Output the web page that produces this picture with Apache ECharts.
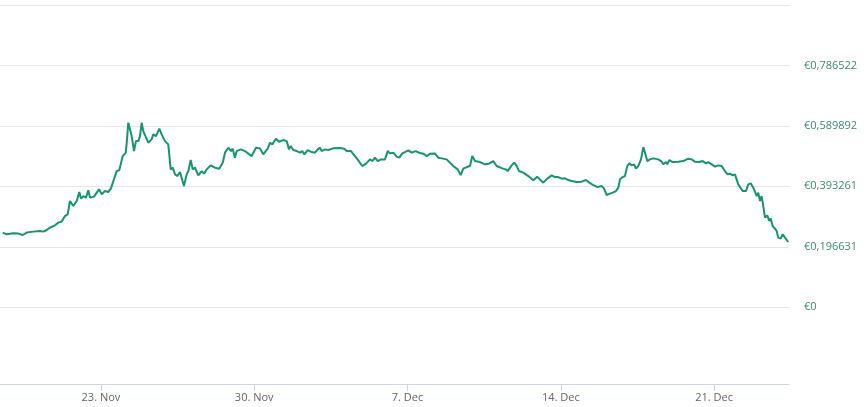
<!DOCTYPE html>
<html>
<head>
<meta charset="utf-8">
<script src="https://cdn.jsdelivr.net/npm/echarts@6/dist/echarts.min.js"></script>
<style>
html,body{margin:0;padding:0;background:#fff;}
#c{width:867px;height:407px;}
</style>
</head>
<body>
<div id="c"></div>
<script>
// hours since 18 Nov 2020 00:00
const hours = [12.4,16.7,24.0,29.5,34.3,38.7,45.9,53.2,56.9,60.6,64.2,69.7,73.3,77.0,80.6,83.6,86.1,89.7,93.5,96.3,98.2,100.7,103.6,106.2,108.0,112.4,115.4,117.9,120.9,124.5,128.1,131.0,135.4,137.3,140.1,143.9,145.3,147.2,148.3,150.0,151.1,153.7,156.3,158.4,161.0,162.8,164.7,166.4,168.3,171.9,175.6,177.4,180.4,184.0,186.6,190.2,193.8,196.5,198.7,201.2,203.7,206.7,208.5,211.0,214.0,215.8,218.4,220.6,223.1,226.7,230.4,233.0,235.9,240.3,245.0,249.7,253.5,256.0,259.6,262.6,264.4,266.9,268.8,273.2,277.9,282.6,285.2,290.0,294.3,296.2,297.9,299.8,302.8,305.3,307.8,311.9,315.2,319.9,323.6,326.1,328.0,330.8,334.6,338.2,340.7,342.9,346.6,351.0,354.6,357.6,360.1,361.9,365.6,369.2,374.7,382.0,386.7,389.4,394.1,397.7,402.1,406.4,410.5,414.9,417.4,420.4,423.3,426.9,431.3,434.3,436.8,440.4,444.1,447.0,450.3,453.2,456.9,460.6,465.0,468.6,473.3,477.0,480.6,486.1,489.7,493.5,498.9,502.6,506.2,511.0,514.3,517.1,520.9,524.5,527.0,530.0,535.4,540.9,545.3,550.0,553.7,559.9,563.6,565.8,570.2,573.0,575.7,578.2,582.9,588.4,590.2,593.9,598.2,601.9,604.8,609.2,614.0,617.6,621.2,625.0,628.6,632.2,635.9,641.4,646.9,651.6,655.2,659.6,664.4,668.8,671.3,674.3,677.9,680.9,684.5,687.0,688.9,691.8,694.3,696.9,699.1,701.7,704.2,706.4,708.9,711.9,714.4,716.3,718.8,721.7,725.4,730.8,734.6,736.3,739.3,740.7,742.9,746.6,752.8,758.2,763.7,767.4,771.0,775.8,779.5,783.1,785.6,789.4,793.0,796.6,800.3,803.9,806.9,809.4,812.4,814.9,818.5,823.3,826.9,829.5,832.1,835.0,836.8,838.7,840.4,842.3,844.1,845.9,847.8,850.3,852.5,854.0,856.2,858.7,860.6,862.3,865.0,867.2,869.7,873.3];
const prices = [0.2428,0.2373,0.2405,0.2395,0.2350,0.2428,0.2460,0.2480,0.2460,0.2512,0.2590,0.2665,0.2753,0.2785,0.2967,0.3023,0.3455,0.3292,0.3455,0.3747,0.3533,0.3617,0.3565,0.3803,0.3565,0.3598,0.3728,0.3835,0.3673,0.3780,0.3747,0.3868,0.4267,0.4430,0.4453,0.4917,0.4973,0.5028,0.5353,0.6003,0.6055,0.5567,0.5080,0.5405,0.5405,0.5567,0.6003,0.5730,0.5697,0.5353,0.5460,0.5623,0.5567,0.5808,0.5623,0.5405,0.5298,0.4485,0.4540,0.4323,0.4267,0.4397,0.4355,0.3942,0.4323,0.4430,0.4787,0.4485,0.4540,0.4290,0.4430,0.4345,0.4485,0.4615,0.4540,0.4508,0.4703,0.5028,0.5190,0.5080,0.5158,0.4865,0.5080,0.5135,0.5080,0.4973,0.4917,0.5190,0.5168,0.5135,0.4973,0.5048,0.5158,0.5353,0.5298,0.5483,0.5385,0.5438,0.5405,0.5135,0.5243,0.5113,0.5080,0.5028,0.5080,0.4973,0.5113,0.5048,0.5028,0.5135,0.5190,0.5080,0.5135,0.5113,0.5168,0.5178,0.5158,0.5080,0.5080,0.4940,0.4778,0.4593,0.4670,0.4810,0.4755,0.4865,0.4755,0.4810,0.4810,0.5080,0.5005,0.5028,0.4898,0.4865,0.5005,0.5048,0.5103,0.5028,0.5080,0.5028,0.4995,0.4917,0.4995,0.5005,0.4865,0.4843,0.4810,0.4703,0.4593,0.4485,0.4300,0.4508,0.4560,0.4593,0.4917,0.4755,0.4723,0.4648,0.4670,0.4755,0.4593,0.4518,0.4485,0.4430,0.4615,0.4703,0.4593,0.4430,0.4378,0.4267,0.4215,0.4128,0.4248,0.4128,0.4053,0.4183,0.4290,0.4235,0.4235,0.4183,0.4193,0.4138,0.4105,0.4073,0.4085,0.4138,0.4053,0.3975,0.3910,0.3942,0.3868,0.3650,0.3695,0.3728,0.3780,0.3890,0.4160,0.4235,0.4267,0.4593,0.4680,0.4615,0.4648,0.4508,0.4593,0.4810,0.5210,0.5028,0.4755,0.4810,0.4843,0.4810,0.4735,0.4648,0.4723,0.4648,0.4787,0.4723,0.4735,0.4755,0.4833,0.4810,0.4735,0.4723,0.4755,0.4680,0.4723,0.4648,0.4573,0.4615,0.4593,0.4430,0.4323,0.4345,0.4290,0.4323,0.3998,0.3780,0.3780,0.3998,0.4030,0.3890,0.3890,0.3617,0.3728,0.3455,0.3617,0.3292,0.2915,0.2990,0.2805,0.2883,0.2642,0.2558,0.2480,0.2265,0.2233,0.2373,0.2265,0.2122];

// x tick positions in hours since 18 Nov 2020 00:00 (23 Nov, 30 Nov, 7 Dec, 14 Dec, 21 Dec)
const xTickHours = [120, 288, 456, 624, 792];
const xTickLabels = ['23. Nov','30. Nov','7. Dec','14. Dec','21. Dec'];
const yTickLabels = ['€0','€0,196631','€0,393261','€0,589892','€0,786522'];
const yStep = 0.1966305;
const xStartHour = 9.4, xEndHour = 874.1;

const seriesData = hours.map((h,i)=>[h, prices[i]]);

const chart = echarts.init(document.getElementById('c'), null, {renderer:'canvas'});
chart.setOption({
  animation:false,
  backgroundColor:'#ffffff',
  grid:{left:0,right:78,top:5,bottom:39.3,containLabel:false},
  xAxis:{
    type:'value',
    min: xStartHour,
    max: xEndHour,
    offset:16.3,
    axisLine:{show:true,onZero:false,lineStyle:{color:'#ccd6eb',width:1}},
    axisTick:{show:true,customValues:xTickHours,length:7,lineStyle:{color:'#ccd6eb'}},
    axisLabel:{
      customValues:xTickHours,
      color:'#666666',fontSize:11,fontFamily:'Open Sans, sans-serif',margin:8,
      formatter:(v)=>{const i=xTickHours.indexOf(Math.round(v));return i>=0?xTickLabels[i]:'';}
    },
    splitLine:{show:false}
  },
  yAxis:{
    type:'value',
    position:'right',
    min:-yStep,
    max:5*yStep,
    interval:yStep,
    axisLine:{show:false},
    axisTick:{show:false},
    splitLine:{show:true,showMinLine:false,showMaxLine:true,lineStyle:{color:'#e6e6e6',width:1}},
    axisLabel:{
      showMinLabel:false,showMaxLabel:false,
      color:'#3c8c6e',fontSize:11,fontFamily:'Open Sans, sans-serif',margin:15,
      formatter:(v)=>{const i=Math.round(v/yStep);return (i>=0&&i<yTickLabels.length)?yTickLabels[i]:'';}
    }
  },
  series:[{
    type:'line',
    data:seriesData,
    showSymbol:false,
    smooth:false,
    lineStyle:{color:'#16966f',width:2},
    itemStyle:{color:'#16966f'}
  }]
});
</script>
</body>
</html>
